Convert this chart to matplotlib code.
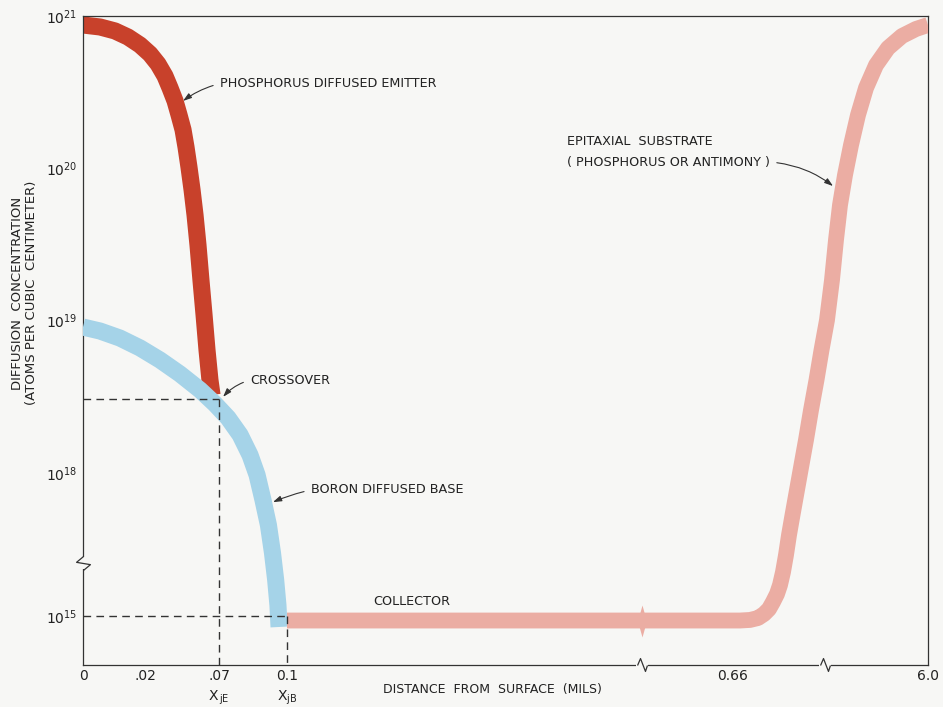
import numpy as np
import matplotlib as mpl
mpl.use('Agg')
from matplotlib import pyplot as plt
from matplotlib.path import Path

# phosphorus diffused emitter (mils, atoms/cm^3)
emitter_x = [0, 0.0055, 0.0103, 0.0145, 0.0184, 0.0234, 0.0288, 0.0335,
             0.0369, 0.0403, 0.0430, 0.0457, 0.0477, 0.0497, 0.0518, 0.0538,
             0.0558, 0.0578, 0.0599, 0.0619, 0.0639, 0.0653]
emitter_y = [8.73e20, 8.47e20, 7.98e20, 7.28e20, 6.45e20, 5.63e20, 4.84e20,
             4.04e20, 3.37e20, 2.77e20, 2.24e20, 1.79e20, 1.38e20, 1.02e20,
             7.21e19, 4.94e19, 3.14e19, 1.85e19, 1.09e19, 6.41e18, 4.07e18,
             3.25e18]

# boron diffused base
base_x = [0, 0.0055, 0.0119, 0.0184, 0.0301, 0.0436, 0.0572, 0.0673, 0.0740,
          0.0793, 0.0837, 0.0868, 0.0894, 0.0918, 0.0936, 0.0950, 0.0960,
          0.0965]
base_y = [9.08e18, 8.55e18, 7.69e18, 6.62e18, 5.52e18, 4.47e18, 3.51e18,
          2.84e18, 2.30e18, 1.78e18, 1.31e18, 9.08e17, 2.72e17, 8.11e16,
          2.10e16, 5.69e15, 1.70e15, 8.47e14]

# collector + epitaxial substrate
sub_x = [0.1, 0.6859, 0.7228, 0.7524, 0.7746, 0.7930, 0.8078, 0.8226, 0.8337,
         0.8448, 0.8559, 0.8670, 0.8799, 0.8965, 0.9131, 0.9298, 0.9483,
         0.9686, 0.9871, 1.097, 1.340, 1.534, 1.728, 1.971, 2.262, 2.602,
         2.990, 3.476, 4.058, 4.738, 5.417, 6.0]
sub_y = [9.34e14, 9.34e14, 9.42e14, 9.70e14, 1.10e15, 1.40e15, 1.97e15,
         2.90e15, 4.47e15, 8.37e15, 1.91e16, 5.00e16, 1.31e17, 4.40e17,
         1.13e18, 1.65e18, 2.59e18, 4.08e18, 6.41e18, 1.01e19, 1.85e19,
         3.39e19, 5.74e19, 9.04e19, 1.42e20, 2.24e20, 3.37e20, 4.76e20,
         6.16e20, 7.39e20, 8.22e20, 8.73e20]

cross_x, cross_y = 0.07, 3.06e18
xjb, collector_level = 0.1, 1e15

xticks = [0, 0.02, 0.07, 0.1, 0.66, 6.0]
xticklabels = ['0', '.02', '.07', '0.1', '0.66', '6.0']
yticks = [1e21, 1e20, 1e19, 1e18, 1e15]
yticklabels = [r'$10^{21}$', r'$10^{20}$', r'$10^{19}$', r'$10^{18}$', r'$10^{15}$']

RED = '#c8412b'
BLUE = '#a5d3e8'
PINK = '#ebada3'
BG = '#f7f7f5'
INK = '#333333'

# hand-drawn, broken axes -> piecewise scales
XK = [-10, 0, 0.02, 0.07, 0.1, 0.66, 1.0, 6.0, 16]
XU = [-31000, 0, 62, 136, 204, 650, 742, 845, 1051]
D = 152.33
TK = [0, 15, 18, 21, 40]
TU = [49 - 15 * D, 49, 192, 649, 649 + 19 * D]


def x_fwd(x):
    return np.interp(np.asarray(x, float), XK, XU)


def x_inv(u):
    return np.interp(np.asarray(u, float), XU, XK)


def y_fwd(y):
    t = np.log10(np.clip(np.asarray(y, float), 1e-300, None))
    return np.interp(t, TK, TU)


def y_inv(u):
    return 10 ** np.interp(np.asarray(u, float), TU, TK)


plt.rcParams.update({'font.family': ['DejaVu Sans'],
                     'mathtext.default': 'regular',
                     'font.size': 9.2})

fig = plt.figure(figsize=(9.43, 7.07), dpi=100, facecolor=BG)
ax = fig.add_axes([83 / 943, 42 / 707, 845 / 943, 649 / 707], facecolor=BG)
ax.set_xscale('function', functions=(x_fwd, x_inv))
ax.set_yscale('function', functions=(y_fwd, y_inv))
ax.set_xlim(0, 6.0)
ax.set_ylim(10 ** (15 - 49 / D), 1e21)

for s in ax.spines.values():
    s.set_color(INK)
    s.set_linewidth(0.9)

ax.set_xticks(xticks)
ax.set_xticklabels(xticklabels)
ax.set_yticks(yticks)
ax.set_yticklabels(yticklabels)
ax.minorticks_off()
ax.tick_params(length=0, colors='#222222', labelsize=10)
ax.tick_params(axis='x', pad=3)
ax.tick_params(axis='y', pad=4)

# bands
ax.plot(emitter_x, emitter_y, color=RED, lw=12.3, solid_capstyle='butt',
        solid_joinstyle='round', zorder=2)
ax.plot(base_x, base_y, color=BLUE, lw=12.3, solid_capstyle='butt',
        solid_joinstyle='round', zorder=3)
ax.plot(sub_x, sub_y, color=PINK, lw=11.4, solid_capstyle='butt',
        solid_joinstyle='round', zorder=3)

# dashed construction lines
dash = dict(color=INK, lw=1.0, ls=(0, (5.5, 3.8)), zorder=4)
ax.plot([0, cross_x], [cross_y, cross_y], **dash)
ax.plot([cross_x, cross_x], [cross_y, 1e10], **dash)
ax.plot([0, xjb], [collector_level, collector_level], **dash)
ax.plot([xjb, xjb], [collector_level, 1e10], **dash)

# breaks
xbreaks = [0.546, 1.0]
ybreak = 1.3e16
zig_x = Path([(-5, 0), (-2, 7), (3, -6), (5, 0)])
zig_y = Path([(0, 6), (-6, 1), (6, -1), (0, -6)])
lens = Path([(0, 1), (0.28, 0), (0, -1), (-0.28, 0), (0, 1)], closed=True)
for xb in xbreaks:
    ax.plot([xb], [0], transform=ax.get_xaxis_transform(), marker='_', ms=8,
            mew=3, color=BG, clip_on=False, zorder=5)
    ax.plot([xb], [0], transform=ax.get_xaxis_transform(), marker=zig_x,
            ms=10, mfc='none', mec=INK, mew=0.9, clip_on=False, zorder=6)
ax.plot([0], [ybreak], transform=ax.get_yaxis_transform(), marker='|', ms=8,
        mew=3, color=BG, clip_on=False, zorder=5)
ax.plot([0], [ybreak], transform=ax.get_yaxis_transform(), marker=zig_y,
        ms=10, mfc='none', mec=INK, mew=0.9, clip_on=False, zorder=6)
ax.plot([xbreaks[0]], [9.34e14], marker=lens, ms=23, color=PINK, mew=0,
        zorder=3)

# subscript labels under the junction ticks
xt = ax.get_xaxis_transform()
ax.text(cross_x, -0.05, r'X$_{\,jE}$', transform=xt, ha='center', va='center',
        fontsize=10, color='#222222')
ax.text(xjb, -0.05, r'X$_{jB}$', transform=xt, ha='center', va='center',
        fontsize=10, color='#222222')

# annotations
arrow = dict(arrowstyle='-|>,head_length=0.55,head_width=0.18', color=INK,
             lw=0.8, shrinkA=3, shrinkB=0, relpos=(0, 0.5))
txt = dict(ha='left', va='center', color='#222222', fontsize=9.2)
ax.annotate('PHOSPHORUS DIFFUSED EMITTER', xy=(0.0457, 2.77e20),
            xytext=(0.0704, 3.6e20),
            arrowprops=dict(arrow, connectionstyle='arc3,rad=0.1'), **txt)
ax.annotate('CROSSOVER', xy=(0.0718, 3.16e18), xytext=(0.0837, 4.07e18),
            arrowprops=dict(arrow, connectionstyle='arc3,rad=0.15'), **txt)
ax.annotate('BORON DIFFUSED BASE', xy=(0.0938, 2.45e17), xytext=(0.130, 4.4e17),
            arrowprops=dict(arrow, connectionstyle='arc3,rad=0.05'), **txt)
ax.text(0.208, 1.97e15, 'COLLECTOR', **txt)
ax.text(0.4516, 1.49e20, 'EPITAXIAL  SUBSTRATE', **txt)
ax.annotate('( PHOSPHORUS OR ANTIMONY )', xy=(1.39, 7.65e19),
            xytext=(0.4516, 1.1e20),
            arrowprops=dict(arrow, relpos=(1, 0.5),
                            connectionstyle='arc3,rad=-0.15'), **txt)

fig.text(492 / 943, 1 - 690 / 707, 'DISTANCE  FROM  SURFACE  (MILS)',
         ha='center', va='center', color='#222222', fontsize=9)
fig.text(25 / 943, 1 - 293 / 707,
         'DIFFUSION  CONCENTRATION\n(ATOMS PER CUBIC  CENTIMETER)',
         rotation=90, ha='center', va='center', multialignment='center',
         color='#222222', fontsize=9.5, linespacing=1.1)

fig.savefig('out.png', dpi=100, facecolor=BG)
